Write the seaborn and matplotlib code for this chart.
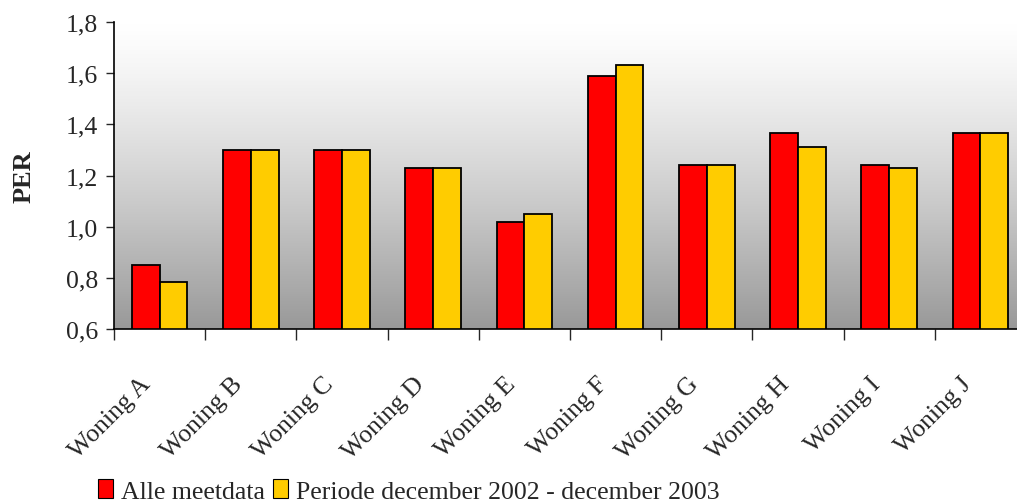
import numpy as np
import pandas as pd
import matplotlib
matplotlib.use("Agg")
import matplotlib.pyplot as plt
import matplotlib.transforms as mtransforms
from matplotlib.patches import Patch
from matplotlib.ticker import FuncFormatter, FixedLocator
import seaborn as sns

# PER per woning, two measurement periods
woningen = ["Woning A", "Woning B", "Woning C", "Woning D", "Woning E",
            "Woning F", "Woning G", "Woning H", "Woning I", "Woning J"]
alle_meetdata = [0.85, 1.30, 1.30, 1.23, 1.02, 1.59, 1.24, 1.365, 1.24, 1.365]
periode_2002_2003 = [0.785, 1.30, 1.30, 1.23, 1.05, 1.63, 1.24, 1.31, 1.23, 1.365]
series_names = ["Alle meetdata", "Periode december 2002 - december 2003"]
y_ticks = [0.6, 0.8, 1.0, 1.2, 1.4, 1.6, 1.8]

df = pd.DataFrame({
    "woning": woningen * 2,
    "PER": alle_meetdata + periode_2002_2003,
    "reeks": [series_names[0]] * len(woningen) + [series_names[1]] * len(woningen),
})

sns.set_style("ticks")
plt.rcParams["font.family"] = ["Liberation Serif", "DejaVu Serif"]

colors = {series_names[0]: "#ff0000", series_names[1]: "#ffcc00"}

fig = plt.figure(figsize=(10.17, 5.02), dpi=100)
ax = fig.add_axes([0.1121, 0.3426, 0.8968, 0.6116])

# white-to-grey vertical gradient behind the bars
t = np.linspace(0.0, 1.0, 256) ** 1.25
grad = (1.0 - t).reshape(-1, 1)
ax.imshow(grad, extent=[0, 1, 0, 1], transform=ax.transAxes, aspect="auto",
          cmap=matplotlib.colors.LinearSegmentedColormap.from_list(
              "bg", ["#999999", "#ffffff"]),
          vmin=0, vmax=1, zorder=0, interpolation="bicubic")

sns.barplot(data=df, x="woning", y="PER", hue="reeks", order=woningen,
            hue_order=series_names, palette=colors, width=0.61, gap=0,
            edgecolor="black", linewidth=1.3, saturation=1, ax=ax,
            legend=False, zorder=2)

ax.set_xlim(-0.5, 9.5)
ax.set_ylim(0.6, 1.8)
ax.set_yticks(y_ticks)
ax.yaxis.set_major_formatter(FuncFormatter(lambda v, p: f"{v:.1f}".replace(".", ",")))
ax.tick_params(axis="y", labelsize=18.5, length=5.5, width=1, direction="out", pad=6)

# category labels at centres, tick marks on category boundaries
ax.set_xticks(range(len(woningen)))
ax.set_xticklabels(woningen, rotation=45, ha="right", va="center",
                   rotation_mode="anchor", fontsize=18.5)
ax.tick_params(axis="x", which="major", length=0, pad=37)
shift = mtransforms.ScaledTranslation(-12 / 100, 0, fig.dpi_scale_trans)
for lbl in ax.get_xticklabels():
    lbl.set_transform(lbl.get_transform() + shift)
ax.xaxis.set_minor_locator(FixedLocator(np.arange(-0.5, 10.0, 1.0)))
ax.tick_params(axis="x", which="minor", length=8, width=1, direction="out")

ax.set_xlabel("")
ax.set_ylabel("PER", fontsize=19, fontweight="bold", labelpad=22)

for side in ("top", "right"):
    ax.spines[side].set_visible(False)
for side in ("left", "bottom"):
    ax.spines[side].set_linewidth(1.2)
    ax.spines[side].set_color("black")

handles = [Patch(facecolor=colors[n], edgecolor="black", linewidth=0.8) for n in series_names]
fig.legend(handles, series_names, loc="center", bbox_to_anchor=(0.402, 0.02),
           ncol=2, frameon=False, fontsize=18.5, handlelength=0.6, handleheight=0.75,
           handletextpad=0.3, columnspacing=0.3, borderaxespad=0)

fig.savefig("out.png", dpi=100)
